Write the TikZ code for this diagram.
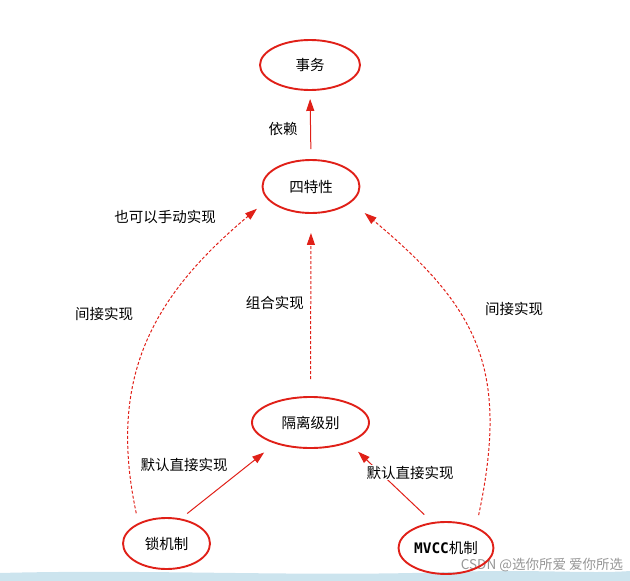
\documentclass[tikz,border=0pt]{standalone}
\usepackage{fontspec}
\setmainfont{Noto Sans CJK SC}
\newfontfamily\monofont{DejaVu Sans Mono}
\usetikzlibrary{arrows.meta,shapes.geometric}

\definecolor{linered}{RGB}{224,32,24}
\definecolor{bandblue}{RGB}{204,228,238}
\definecolor{markgray}{RGB}{150,150,150}

\tikzstyle{state} = [ellipse, draw = linered, line width = 1.9pt, inner sep = 0pt, text = black]
\tikzstyle{arrow} = [draw = linered, line width = 1pt, -{Triangle[length=12pt,width=8pt]}]
\tikzstyle{dasharrow} = [arrow, dash pattern = on 3pt off 2pt]
\tikzstyle{tag} = [text = black]

\begin{document}
\begin{tikzpicture}
    [x = 1pt, y = -1pt, auto, font = \fontsize{14.5}{16}\selectfont]
  \useasboundingbox (0,0) rectangle (630,581);
  % band and mark at the foot
  \fill[bandblue] (0,573) .. controls (150,569) and (300,577) .. (450,572)
    .. controls (530,569) and (590,574) .. (630,571) -- (630,581) -- (0,581) -- cycle;
  \node[text = markgray, font = \fontsize{13.5}{15}\selectfont] (mark) at (542,565) {CSDN @选你所爱 爱你所选};

  \node[state, minimum width = 100pt, minimum height = 50pt] (task) at (310,65) {事务};
  \node[state, minimum width = 97pt, minimum height = 53pt] (four) at (311,186.5) {四特性};
  \node[state, minimum width = 117pt, minimum height = 51pt] (iso) at (310.5,422.5) {隔离级别};
  \node[state, minimum width = 87pt, minimum height = 51pt] (lock) at (166.5,543.5) {锁机制};
  \node[state, minimum width = 95pt, minimum height = 52pt] (mvcc) at (446,548) {{\monofont\bfseries MVCC}机制};

  \draw [arrow, shorten <= 10pt, shorten >= 8pt] (four.north) -- node[tag, xshift = -9pt, yshift = -4pt] (dep) {依赖} (task.south);
  \draw [dasharrow, shorten <= 17pt, shorten >= 19pt] (iso.north) -- node[tag, xshift = -3pt, yshift = 2pt] (comb) {组合实现} (four.south);
  \draw [arrow, shorten <= 8pt, shorten >= 14pt] (lock.60) -- node[tag, pos = 0.6, xshift = -6pt, yshift = -2pt] (lockdef) {默认直接实现} (iso.211);
  \draw [arrow, shorten <= 11pt, shorten >= 13pt] (mvcc.118) -- node[tag, auto = false, pos = 0.6, fill = white, inner sep = 1pt, xshift = 28pt, yshift = 2pt] (mvccdef) {默认直接实现} (iso.332);
  \draw [dasharrow, shorten <= 10pt, shorten >= 14pt] (lock.144) to[out = 102, in = 220, looseness = 1.1]
    node[tag, pos = 0.56, xshift = -20pt] (lockind) {间接实现}
    node[tag, pos = 0.93, xshift = -25pt, yshift = -8pt] (lockhand) {也可以手动实现} (four.197);
  \draw [dasharrow, shorten <= 12pt, shorten >= 17pt] (mvcc.35) to[out = 78, in = 320, looseness = 1.2]
    node[tag, swap, pos = 0.6, xshift = 22pt, yshift = -4pt] (mvccind) {间接实现} (four.339);
\end{tikzpicture}
\end{document}
